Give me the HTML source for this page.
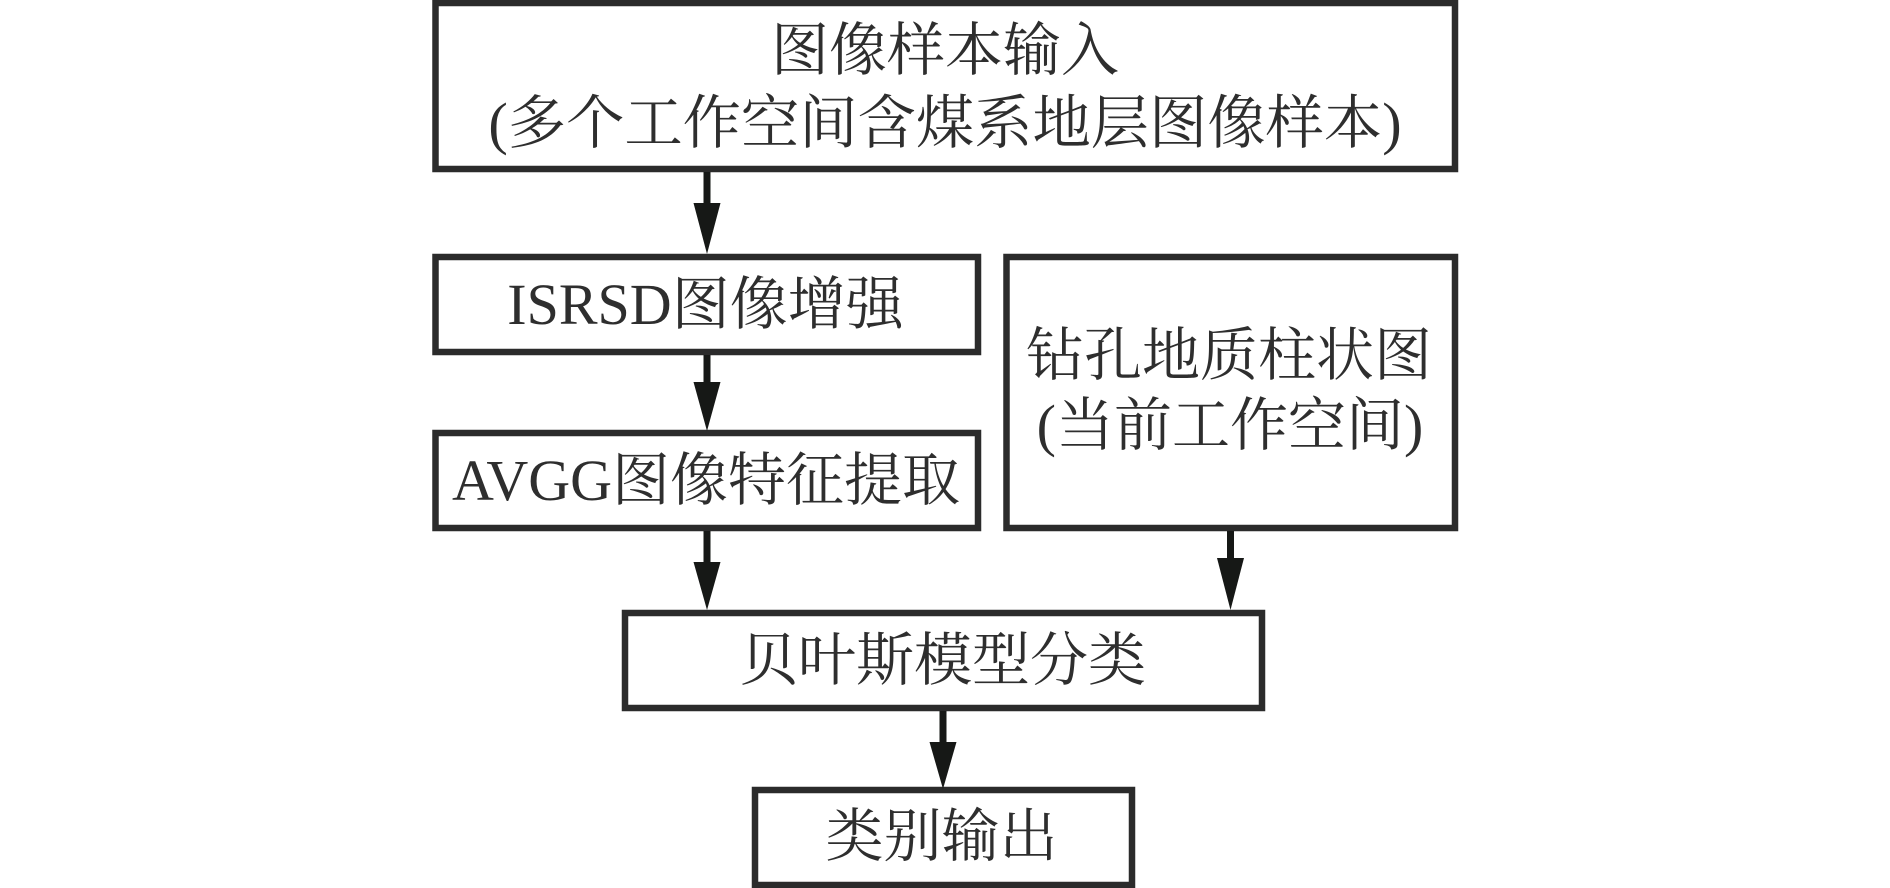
<!DOCTYPE html>
<html lang="zh"><head><meta charset="utf-8"><style>
html,body{margin:0;padding:0;background:#fff;width:1890px;height:888px;overflow:hidden}
svg{display:block}
text{font-family:"Liberation Serif","Noto Serif CJK SC",serif;font-size:58px;fill:#2e2e2e;text-anchor:middle}
rect{fill:#fff;stroke:#2b2b2b;stroke-width:6.5}
.s{stroke:#161816;stroke-width:7}
polygon{fill:#161816}
</style></head><body>
<svg width="1890" height="888" viewBox="0 0 1890 888" xmlns="http://www.w3.org/2000/svg">
<rect x="435.5" y="3" width="1019.5" height="166"/>
<rect x="435.5" y="257" width="542.5" height="95"/>
<rect x="435.5" y="433" width="542.5" height="95"/>
<rect x="1006.5" y="257" width="448.5" height="271"/>
<rect x="625" y="613" width="637" height="95"/>
<rect x="755" y="790" width="377" height="95"/>
<line class="s" x1="707" y1="172" x2="707" y2="210"/><polygon points="693.5,203 720.5,203 707,254"/>
<line class="s" x1="707" y1="355" x2="707" y2="390"/><polygon points="693.5,382 720.5,382 707,431"/>
<line class="s" x1="707" y1="531" x2="707" y2="570"/><polygon points="693.5,562 720.5,562 707,610"/>
<line class="s" x1="1230.5" y1="531" x2="1230.5" y2="565"/><polygon points="1217,558 1244,558 1230.5,610"/>
<line class="s" x1="943" y1="711" x2="943" y2="750"/><polygon points="929.5,742 956.5,742 943,789"/>
<text x="945" y="70">图像样本输入</text>
<text x="945" y="143" style="font-size:58.3px">(多个工作空间含煤系地层图像样本)</text>
<text x="705.5" y="324">ISRSD图像增强</text>
<text x="706" y="500">AVGG图像特征提取</text>
<text x="1229" y="375">钻孔地质柱状图</text>
<text x="1230" y="445">(当前工作空间)</text>
<text x="943" y="680">贝叶斯模型分类</text>
<text x="941.5" y="856">类别输出</text>
</svg>
</body></html>
